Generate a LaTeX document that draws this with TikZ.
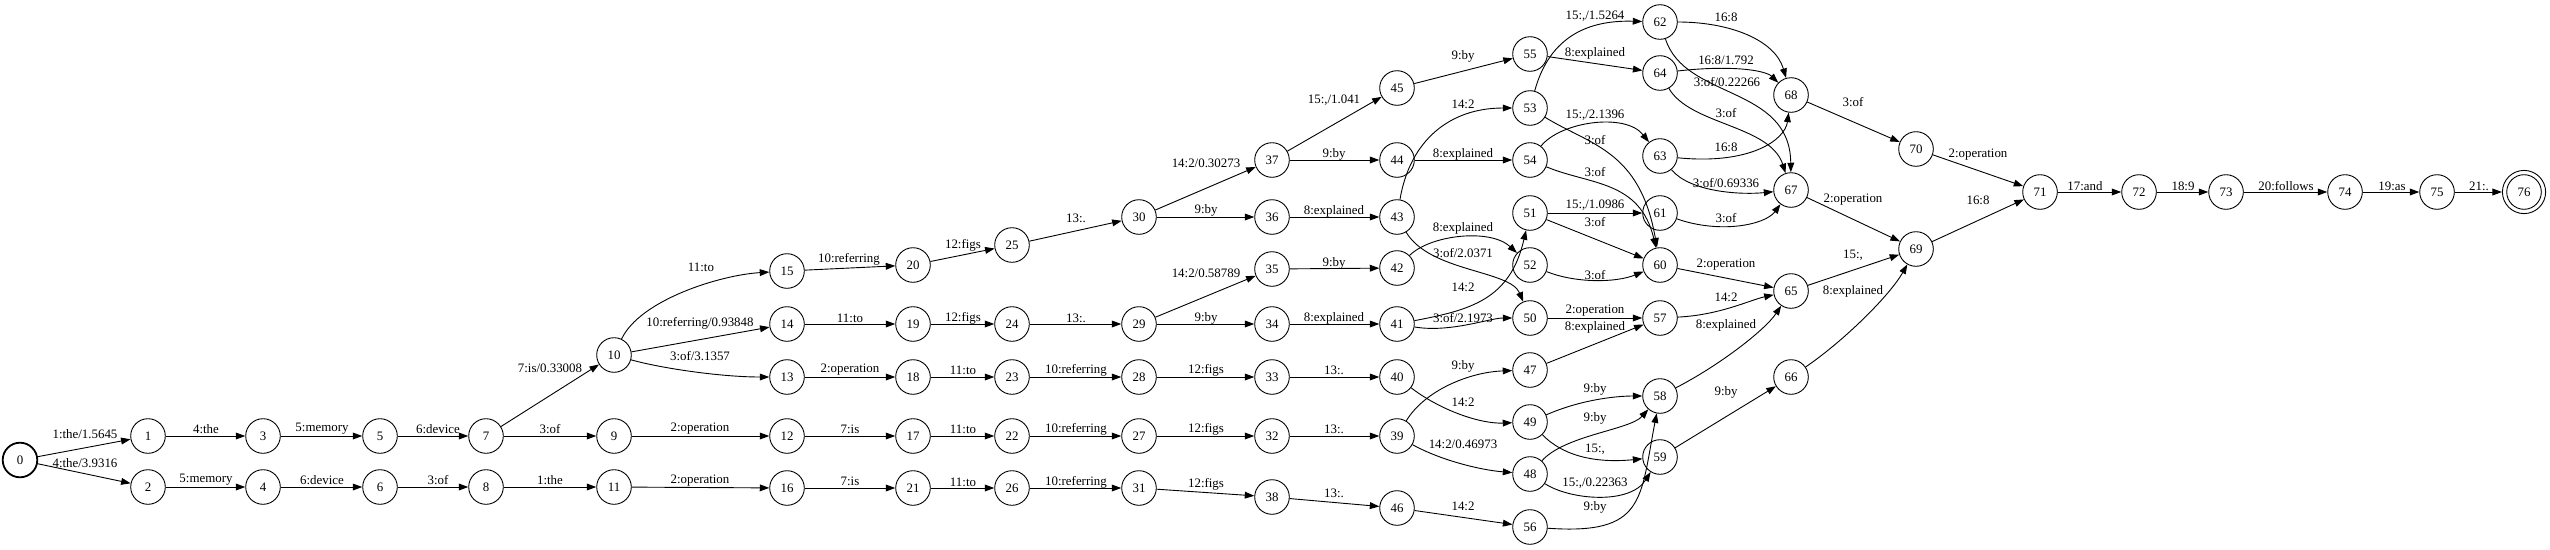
\documentclass[tikz,border=0pt]{standalone}
\usepackage{fontspec}
\setmainfont{Liberation Serif}
\usetikzlibrary{arrows.meta}
\newcommand\fsz{\fontsize{12.9}{15}\selectfont}
\tikzset{
  st/.style={circle,draw,line width=0.9pt,minimum size=34.6pt,inner sep=0pt,font=\fsz},
  initst/.style={st,line width=1.8pt},
  finst/.style={st,minimum size=43.2pt},
  ed/.style={line width=0.9pt,-{Triangle[length=9.5pt,width=6.8pt]}},
  lbl/.style={font=\fsz,inner sep=0pt}
}
\newcommand\stn[3]{\node[st] (n#1) at (#2,#3) {#1};}
\newcommand\edg[5]{\draw[ed] (n#1) -- (n#2); \node[lbl] (l#1-#2) at (#3,#4) {#5};}
\newcommand\cdg[7]{\draw[ed] (n#1) .. controls (#3) and (#4) .. (n#2); \node[lbl] (l#1-#2) at (#5,#6) {#7};}
\begin{document}
\begin{tikzpicture}[x=1pt,y=-1pt]
\useasboundingbox (0,0) rectangle (2550,549);
\node[initst] (n0) at (20,460) {0};
\stn{1}{148}{436}
\stn{2}{148}{487}
\stn{3}{263}{436}
\stn{4}{263}{487}
\stn{5}{380}{436}
\stn{6}{380}{487}
\stn{7}{486}{436}
\stn{8}{486}{487}
\stn{9}{614}{436}
\stn{10}{614}{355}
\stn{11}{614}{487}
\stn{12}{787}{436}
\stn{13}{787}{377}
\stn{14}{787}{324}
\stn{15}{787}{271}
\stn{16}{787}{488}
\stn{17}{913}{436}
\stn{18}{913}{377}
\stn{19}{913}{324}
\stn{20}{913}{265}
\stn{21}{913}{488}
\stn{22}{1012}{436}
\stn{23}{1012}{377}
\stn{24}{1012}{324}
\stn{25}{1012}{245}
\stn{26}{1012}{488}
\stn{27}{1139}{436}
\stn{28}{1139}{377}
\stn{29}{1139}{324}
\stn{30}{1139}{217}
\stn{31}{1139}{488}
\stn{32}{1272}{436}
\stn{33}{1272}{377}
\stn{34}{1272}{324}
\stn{35}{1272}{269}
\stn{36}{1272}{217}
\stn{37}{1272}{160}
\stn{38}{1272}{497}
\stn{39}{1397}{436}
\stn{40}{1397}{377}
\stn{41}{1397}{324}
\stn{42}{1397}{268}
\stn{43}{1397}{217}
\stn{44}{1397}{160}
\stn{45}{1397}{88}
\stn{46}{1397}{508}
\stn{47}{1530}{370}
\stn{48}{1530}{474}
\stn{49}{1530}{422}
\stn{50}{1530}{318}
\stn{51}{1530}{213}
\stn{52}{1530}{265}
\stn{53}{1530}{108}
\stn{54}{1530}{160}
\stn{55}{1530}{54}
\stn{56}{1530}{527}
\stn{57}{1660}{318}
\stn{58}{1660}{396}
\stn{59}{1660}{457}
\stn{60}{1660}{265}
\stn{61}{1660}{213}
\stn{62}{1660}{22}
\stn{63}{1660}{156}
\stn{64}{1660}{73}
\stn{65}{1791}{291}
\stn{66}{1791}{377}
\stn{67}{1791}{190}
\stn{68}{1791}{95}
\stn{69}{1916}{249}
\stn{70}{1916}{149}
\stn{71}{2040}{192}
\stn{72}{2139}{192}
\stn{73}{2226}{192}
\stn{74}{2345}{192}
\stn{75}{2437}{192}
\node[finst] (n76) at (2524,192) {76};
\draw[line width=0.9pt] (n76.center) circle (17.3pt);
% edges
\edg{0}{1}{85}{434}{1:the/1.5645}
\edg{0}{2}{85}{463}{4:the/3.9316}
\edg{1}{3}{206}{429}{4:the}
\edg{3}{5}{322}{429}{5:memory}
\edg{5}{7}{438}{429}{6:device}
\edg{2}{4}{206}{480}{5:memory}
\edg{4}{6}{322}{480}{6:device}
\edg{6}{8}{438}{480}{3:of}
\edg{7}{10}{550}{368}{7:is/0.33008}
\edg{7}{9}{550}{429}{3:of}
\edg{8}{11}{550}{480}{1:the}
\edg{9}{12}{700}{429}{2:operation}
\edg{11}{16}{700}{481}{2:operation}
\cdg{10}{15}{640,300}{720,275}{701}{267}{11:to}
\edg{10}{14}{700}{323}{10:referring/0.93848}
\cdg{10}{13}{660,368}{720,377}{700}{356}{3:of/3.1357}
\edg{15}{20}{849}{259}{10:referring}
\edg{14}{19}{850}{318}{11:to}
\edg{13}{18}{850}{370}{2:operation}
\edg{12}{17}{850}{429}{7:is}
\edg{16}{21}{850}{481}{7:is}
\edg{20}{25}{963}{245}{12:figs}
\edg{25}{30}{1076}{218}{13:.}
\edg{19}{24}{963}{318}{12:figs}
\edg{24}{29}{1076}{318}{13:.}
\edg{18}{23}{963}{370}{11:to}
\edg{23}{28}{1076}{370}{10:referring}
\edg{17}{22}{963}{429}{11:to}
\edg{22}{27}{1076}{429}{10:referring}
\edg{21}{26}{963}{482}{11:to}
\edg{26}{31}{1076}{482}{10:referring}
\edg{30}{37}{1206}{163}{14:2/0.30273}
\edg{30}{36}{1206}{210}{9:by}
\edg{29}{35}{1206}{273}{14:2/0.58789}
\edg{29}{34}{1206}{318}{9:by}
\edg{28}{33}{1206}{370}{12:figs}
\edg{27}{32}{1206}{429}{12:figs}
\edg{31}{38}{1206}{484}{12:figs}
\edg{37}{45}{1334}{100}{15:,/1.041}
\edg{37}{44}{1334}{154}{9:by}
\edg{36}{43}{1334}{211}{8:explained}
\edg{35}{42}{1334}{263}{9:by}
\edg{34}{41}{1334}{318}{8:explained}
\edg{33}{40}{1334}{370}{13:.}
\edg{32}{39}{1334}{429}{13:.}
\edg{38}{46}{1334}{493}{13:.}
\edg{45}{55}{1463}{56}{9:by}
\edg{44}{54}{1463}{154}{8:explained}
\cdg{43}{53}{1410,140}{1450,108}{1463}{104}{14:2}
\cdg{43}{50}{1430,272}{1510,270}{1463}{253}{3:of/2.0371}
\cdg{42}{52}{1430,235}{1490,228}{1463}{228}{8:explained}
\cdg{41}{51}{1470,310}{1510,300}{1463}{287}{14:2}
\cdg{41}{50}{1450,333}{1490,318}{1463}{318}{3:of/2.1973}
\cdg{40}{49}{1440,410}{1480,424}{1463}{402}{14:2}
\cdg{39}{47}{1425,390}{1470,372}{1463}{366}{9:by}
\cdg{39}{48}{1440,460}{1480,470}{1463}{444}{14:2/0.46973}
\edg{46}{56}{1463}{506}{14:2}
\edg{50}{57}{1595}{311}{2:operation}
\edg{47}{57}{1595}{327}{8:explained}
\cdg{49}{58}{1580,400}{1615,396}{1595}{389}{9:by}
\cdg{48}{58}{1565,435}{1630,430}{1595}{418}{9:by}
\cdg{49}{59}{1565,458}{1600,463}{1595}{449}{15:,}
\cdg{48}{59}{1570,500}{1630,505}{1595}{483}{15:,/0.22363}
\cdg{56}{58}{1645,535}{1640,500}{1595}{507}{9:by}
\cdg{53}{62}{1550,35}{1590,20}{1595}{16}{15:,/1.5264}
\edg{55}{64}{1595}{53}{8:explained}
\cdg{54}{63}{1560,122}{1625,112}{1595}{115}{15:,/2.1396}
\cdg{53}{60}{1590,145}{1640,150}{1595}{140}{3:of}
\cdg{54}{60}{1590,185}{1640,180}{1595}{172}{3:of}
\edg{51}{61}{1595}{205}{15:,/1.0986}
\edg{51}{60}{1595}{222}{3:of}
\cdg{52}{60}{1575,283}{1615,283}{1595}{275}{3:of}
\cdg{62}{68}{1730,22}{1775,40}{1726}{17}{16:8}
\cdg{64}{68}{1730,65}{1765,70}{1726}{60}{16:8/1.792}
\cdg{62}{67}{1685,100}{1790,85}{1727}{82}{3:of/0.22266}
\cdg{64}{67}{1690,125}{1770,125}{1726}{113}{3:of}
\cdg{63}{68}{1750,165}{1785,140}{1726}{147}{16:8}
\cdg{63}{67}{1690,192}{1740,195}{1726}{183}{3:of/0.69336}
\cdg{61}{67}{1720,234}{1765,225}{1726}{218}{3:of}
\edg{60}{65}{1726}{265}{2:operation}
\cdg{57}{65}{1720,315}{1750,300}{1726}{297}{14:2}
\cdg{58}{65}{1720,365}{1765,330}{1726}{325}{8:explained}
\edg{59}{66}{1726}{392}{9:by}
\edg{65}{69}{1853}{255}{15:,}
\cdg{66}{69}{1845,340}{1890,295}{1853}{291}{8:explained}
\edg{67}{69}{1853}{200}{2:operation}
\edg{68}{70}{1853}{102}{3:of}
\edg{70}{71}{1978}{155}{2:operation}
\edg{69}{71}{1978}{200}{16:8}
\edg{71}{72}{2085}{186}{17:and}
\edg{72}{73}{2183}{186}{18:9}
\edg{73}{74}{2286}{186}{20:follows}
\edg{74}{75}{2392}{186}{19:as}
\edg{75}{76}{2479}{186}{21:.}
\end{tikzpicture}
\end{document}
